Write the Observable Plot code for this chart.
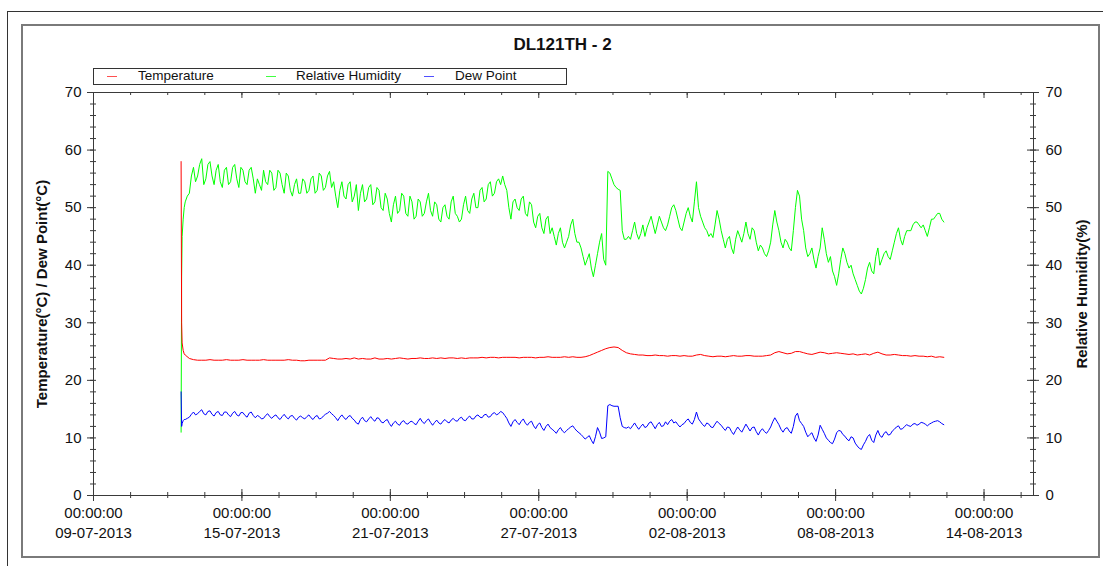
<!DOCTYPE html>
<html><head><meta charset="utf-8">
<script src="https://cdn.jsdelivr.net/npm/d3@7"></script>
<script src="https://cdn.jsdelivr.net/npm/@observablehq/plot@0.6"></script>
<style>
body{margin:0;background:#fff;font-family:"Liberation Sans",Arial,sans-serif;color:#111;}
#wrap{position:relative;width:1103px;height:566px;overflow:hidden;background:#fff;}
#chart{position:absolute;left:0;top:0;}
.outer{position:absolute;left:7px;top:11px;width:1200px;height:700px;border-left:1px solid #333;border-top:1px solid #333;pointer-events:none;}
.inner{position:absolute;left:21px;top:24px;width:1075px;height:530px;border:2px solid #7a7a7a;pointer-events:none;}
.title{position:absolute;left:0;width:1125px;top:35px;text-align:center;font-weight:bold;font-size:17px;line-height:20px;}
.legend{position:absolute;left:93px;top:68px;width:472px;height:15px;border:1px solid #333;}
.sw{position:absolute;top:76px;width:10px;height:0;border-top:1px solid;}
.lt{position:absolute;top:68px;font-size:13.5px;line-height:16px;white-space:nowrap;}
</style></head><body>
<div id="wrap">
  <div id="chart"></div>
  <div class="outer"></div>
  <div class="inner"></div>
  <div class="title">DL121TH - 2</div>
  <div class="legend"></div>
  <div class="sw" style="left:107px;border-color:#ff5050"></div><div class="lt" style="left:138px">Temperature</div>
  <div class="sw" style="left:266px;border-color:#40ff40"></div><div class="lt" style="left:296px">Relative Humidity</div>
  <div class="sw" style="left:424px;border-color:#5050ff"></div><div class="lt" style="left:455px">Dew Point</div>
</div>
<script>
// sample times: hours after 12-07-2013 13:00 (first readings, then a regular step)
const startUTC = Date.UTC(2013, 6, 12, 13, 0);
const headHours = [0, 0.5, 1, 2, 3];
const tempStepHours = 4;   // temperature read every 4 h
const humStepHours = 2;    // humidity & dew point read every 2 h

const temperature = [58, 30, 26.5, 25.2, 24.6,
 24.4, 23.8, 23.6, 23.5, 23.5, 23.5, 23.6, 23.5, 23.5, 23.5,
 23.6, 23.5, 23.5, 23.5, 23.6, 23.5, 23.5, 23.5, 23.5, 23.6,
 23.5, 23.5, 23.5, 23.5, 23.5, 23.6, 23.5, 23.5, 23.4, 23.4,
 23.5, 23.5, 23.5, 23.5, 23.5, 23.9, 23.8, 23.7, 23.7, 23.8,
 23.7, 23.9, 23.7, 23.8, 23.7, 23.7, 23.9, 23.7, 23.7, 23.8,
 23.7, 23.8, 23.9, 23.8, 23.7, 23.8, 23.8, 23.9, 23.8, 23.8,
 23.9, 23.8, 23.9, 23.8, 23.9, 23.9, 23.8, 23.9, 23.8, 23.9,
 23.9, 23.9, 24.0, 23.9, 24.0, 24.0, 23.9, 24.0, 24.0, 24.0,
 24.0, 23.9, 24.0, 24.0, 24.0, 23.9, 24.0, 24.0, 24.1, 24.0,
 24.0, 24.0, 24.1, 24.0, 24.1, 24.0, 24.0, 24.1, 24.3, 24.6,
 24.9, 25.2, 25.5, 25.7, 25.8, 25.7, 25.2, 24.8, 24.6, 24.5,
 24.4, 24.4, 24.3, 24.3, 24.4, 24.3, 24.3, 24.2, 24.3, 24.3,
 24.2, 24.3, 24.2, 24.2, 24.4, 24.5, 24.3, 24.2, 24.1, 24.2,
 24.2, 24.1, 24.2, 24.3, 24.2, 24.2, 24.3, 24.3, 24.2, 24.2,
 24.2, 24.3, 24.4, 24.8, 25.0, 24.8, 24.6, 24.7, 25.0, 25.0,
 24.8, 24.6, 24.5, 24.7, 24.9, 24.8, 24.6, 24.7, 24.8, 24.7,
 24.6, 24.5, 24.6, 24.4, 24.5, 24.6, 24.4, 24.7, 24.9, 24.6,
 24.4, 24.4, 24.5, 24.4, 24.3, 24.3, 24.2, 24.3, 24.2, 24.2,
 24.1, 24.2, 24.0, 24.1, 24.0];

const humidity = [11, 38, 45, 48, 50,
 51, 52, 52.5, 55.5, 57, 54.5, 55.5, 57.5, 58.5, 54, 55, 57.5, 58, 55.5, 54, 56.5, 57.5, 54.5, 53.5, 56.5,
 57, 54, 54.5, 57, 57.5, 55, 53.5, 57, 56.5, 54.5, 54, 56.5, 57, 55, 52.5, 55, 54, 53, 56.5, 54.5,
 54, 56.5, 56, 53, 53.5, 56.5, 56, 54, 52.5, 56, 55.5, 53, 52, 54, 55, 52.5, 52.5, 55, 54.5, 52.5,
 53, 55, 55.5, 52.5, 53, 56, 55.5, 53, 53.5, 55.5, 56.3, 53.5, 54.5, 52, 50, 53, 54.5, 52, 51.5, 54,
 54.5, 51, 52, 54, 49.5, 52.5, 54, 51, 51.5, 53.5, 54, 50.5, 51, 53.5, 53, 50, 49.5, 52.5, 51.5, 49,
 47.5, 50.5, 52, 49, 49.5, 52.5, 52, 49, 48.5, 52, 51, 48, 48.5, 51.5, 51, 48.5, 49, 51, 52.5, 49.5,
 48.5, 51, 50.5, 48, 47.5, 50, 50.5, 48.5, 48, 51, 52, 49, 48.5, 47.5, 48, 50.5, 52, 49.5, 49, 51.5,
 52.5, 50, 50, 53, 53.5, 51, 51.5, 54, 54.5, 52, 52.5, 54.5, 55, 54, 55.5, 54, 53, 50, 48, 51,
 51.5, 50, 49.5, 51.5, 52, 49, 48.5, 51, 50.5, 47.5, 46.5, 48.5, 49, 46.5, 45.5, 48, 48.5, 45.5, 46.5, 45,
 43.5, 45.5, 46.5, 44, 43, 44, 45, 47, 48, 45.5, 44, 44, 43, 41.5, 40, 41, 42, 39.5, 38, 40,
 42, 44, 45.5, 41, 40, 56.3, 56, 55, 54, 53.5, 53.2, 53, 46, 44.5, 44.5, 45, 44.5, 46, 47.5, 45.5,
 44.5, 45.5, 47, 45, 46.5, 47.5, 48.5, 47, 45.5, 47, 48.5, 47.5, 46.5, 46, 47, 48.5, 50, 50.5, 49.5, 48,
 46.5, 46, 47.5, 49, 50, 48.5, 47.5, 51, 54.5, 50, 48.5, 47.5, 46.5, 46, 45, 45.5, 44.8, 47, 49.5, 48,
 46, 44.5, 43, 44.5, 45, 43, 42, 44.5, 46, 45, 44, 45.5, 47.5, 45.5, 44.5, 46.5, 46, 44, 42.5, 43.5,
 43, 42, 41.5, 42.5, 44, 47, 49.5, 47.5, 46, 44, 43, 44.5, 44, 43, 42.5, 46, 50, 53, 52, 48,
 46, 43, 41.5, 42, 43, 41, 39.5, 41.5, 43, 46.5, 44.5, 42, 40.5, 41.5, 39, 38, 36.5, 38.5, 41, 43,
 42, 40.5, 39.5, 40, 38.5, 37.5, 36.5, 35.5, 35, 36, 37.5, 39.5, 40.5, 39, 38.5, 41.5, 43, 40, 41, 42,
 42.5, 41.5, 41, 42.5, 44, 45.5, 46.5, 44.5, 43.5, 45, 46, 46, 46, 47, 47.5, 47.5, 47, 46.5, 47, 46,
 45, 46.5, 48, 48, 48.5, 49, 49, 48, 47.5];

const dewPoint = [18, 12, 12.5, 13, 13.2,
 13.2, 13.4, 13.6, 14.1, 14.5, 14.0, 14.2, 14.6, 14.9, 14.2, 14.0, 14.6, 14.7, 14.1, 13.8, 14.4, 14.6, 14.0, 13.9, 14.5,
 14.5, 14.0, 13.7, 14.3, 14.6, 14.0, 13.8, 14.4, 14.4, 13.9, 13.6, 14.3, 14.5, 13.9, 13.5, 13.9, 13.7, 13.3, 13.4, 13.9,
 14.2, 13.7, 13.4, 13.8, 14.0, 13.5, 13.2, 13.7, 14.1, 13.6, 13.3, 13.8, 13.9, 13.4, 13.1, 13.6, 13.8, 13.5, 13.3, 13.7,
 14.0, 13.5, 13.2, 13.7, 13.9, 13.3, 13.4, 13.8, 14.1, 14.3, 14.6, 14.2, 13.9, 13.5, 13.0, 13.6, 14.0, 13.5, 13.2, 13.7,
 13.9, 13.4, 13.1, 12.6, 12.4, 13.2, 13.6, 13.0, 12.8, 13.3, 13.7, 13.2, 12.9, 13.5, 13.4, 12.8, 12.6, 13.0, 13.2, 12.5,
 12.0, 12.6, 12.9, 12.4, 12.2, 12.8, 13.0, 12.5, 12.4, 12.8, 12.9, 12.5, 12.3, 12.9, 13.4, 12.8, 12.5, 13.0, 13.3, 12.7,
 12.2, 12.7, 13.1, 12.6, 12.4, 12.9, 13.2, 12.8, 12.6, 13.1, 13.4, 13.0, 12.9, 13.4, 13.6, 13.1, 13.0, 13.5, 13.8, 13.3,
 13.3, 13.8, 14.0, 13.6, 13.5, 14.0, 14.1, 13.6, 13.7, 14.2, 14.4, 14.0, 14.2, 14.6, 14.4, 13.9, 13.4, 12.6, 12.0, 12.8,
 13.2, 12.7, 12.3, 12.9, 13.3, 12.6, 12.2, 12.7, 12.9, 12.1, 11.6, 12.3, 12.6, 11.8, 11.3, 12.0, 12.4, 11.8, 11.5, 11.2,
 10.8, 11.4, 11.8, 11.2, 10.9, 11.3, 11.6, 11.9, 12.1, 11.6, 11.2, 10.9, 10.6, 10.2, 9.8, 10.1, 10.4, 9.6, 9.0, 10.2,
 11.8, 11.0, 9.9, 10.0, 10.2, 15.6, 15.8, 15.6, 15.5, 15.5, 15.5, 13.5, 12.0, 11.8, 11.7, 11.9, 11.6, 12.1, 12.6, 12.0,
 11.5, 12.0, 12.4, 11.8, 12.0, 12.6, 12.8, 12.2, 11.6, 12.3, 12.7, 12.0, 12.1, 12.8, 12.3, 12.9, 13.2, 12.6, 12.8, 12.3,
 11.9, 12.3, 12.5, 13.0, 13.3, 12.7, 12.4, 13.2, 14.5, 13.3, 12.8, 12.3, 12.0, 12.6, 12.4, 11.9, 11.8, 12.4, 12.9, 12.5,
 12.2, 11.7, 11.3, 11.9, 11.8, 11.1, 10.6, 11.3, 11.9, 11.4, 11.0, 11.7, 12.4, 11.8, 11.2, 11.8, 11.9, 11.1, 10.5, 11.2,
 11.6, 11.1, 10.8, 11.3, 11.9, 12.8, 13.5, 12.9, 12.3, 11.5, 11.0, 11.6, 11.8, 11.2, 10.8, 12.0, 13.8, 14.3, 13.0, 12.5,
 12.0, 11.0, 10.2, 10.6, 10.9, 10.0, 9.4, 10.5, 12.2, 11.5, 10.8, 10.0, 9.6, 9.2, 9.0, 9.8, 10.9, 11.3, 11.2, 10.6,
 10.3, 9.8, 9.5, 10.2, 10.0, 9.1, 8.6, 8.2, 8.0, 8.8, 9.4, 10.2, 10.6, 9.6, 9.2, 10.5, 11.3, 10.4, 10.1, 10.8,
 11.1, 10.5, 10.6, 11.2, 11.5, 11.9, 12.1, 11.5, 11.6, 12.0, 12.3, 12.1, 12.0, 12.4, 12.5, 12.2, 12.4, 12.7, 12.6, 12.4,
 12.1, 12.4, 12.6, 12.8, 12.9, 13.0, 12.8, 12.5, 12.3];

const xMajorLabels = ["09-07-2013","15-07-2013","21-07-2013","27-07-2013","02-08-2013","08-08-2013","14-08-2013"];
const xDomain = ["2013-07-09", "2013-08-16"];
const yMajor = [0, 10, 20, 30, 40, 50, 60, 70];

const parseDMY = s => { const [d, m, y] = s.split("-").map(Number); return new Date(Date.UTC(y, m - 1, d)); };
const xMajor = xMajorLabels.map(parseDMY);
const x0 = new Date(xDomain[0] + "T00:00:00Z"), x1 = new Date(xDomain[1] + "T00:00:00Z");
const xMinor = d3.range(0, 38, 1.5).map(d => new Date(+x0 + d * 864e5));
const yMinor = d3.range(0, 71, 2);

const timesFor = (n, step) => headHours.concat(d3.range(0, n - headHours.length).map(j => 4 + j * step));
const toRows = (vals, step) => { const h = timesFor(vals.length, step); return vals.map((v, i) => ({t: new Date(startUTC + h[i] * 3600e3), v})); };

const W = 1103, H = 566, mL = 93, mR = 70, mT = 92, mB = 71;
const pw = W - mL - mR, ph = H - mT - mB;
const axisColor = "#3a3a3a";
const font = "'Liberation Sans', Arial, sans-serif";

const chart = Plot.plot({
  width: W, height: H,
  marginLeft: mL, marginRight: mR, marginTop: mT, marginBottom: mB,
  style: {fontFamily: font, fontSize: "15px", background: "transparent", color: "#111"},
  x: {type: "utc", domain: [x0, x1], axis: null},
  y: {domain: [0, 70], axis: null},
  marks: [
    Plot.line(toRows(humidity, humStepHours), {x: "t", y: "v", stroke: "#00ff00", strokeWidth: 1}),
    Plot.line(toRows(temperature, tempStepHours), {x: "t", y: "v", stroke: "#ff0000", strokeWidth: 1}),
    Plot.line(toRows(dewPoint, humStepHours), {x: "t", y: "v", stroke: "#0000ff", strokeWidth: 1}),
    Plot.frame({stroke: axisColor}),
    Plot.tickX(xMinor, {x: d => d, insetTop: ph - 3, insetBottom: -3, stroke: axisColor}),
    Plot.tickX(xMajor, {x: d => d, insetTop: ph - 6, insetBottom: -6, stroke: axisColor}),
    Plot.tickX(xMinor, {x: d => d, insetBottom: ph - 3, stroke: axisColor}),
    Plot.tickX(xMajor, {x: d => d, insetBottom: ph - 6, stroke: axisColor}),
    Plot.tickY(yMinor, {y: d => d, insetRight: pw - 3, insetLeft: -3, stroke: axisColor}),
    Plot.tickY(yMajor, {y: d => d, insetRight: pw, insetLeft: -6, stroke: axisColor}),
    Plot.tickY(yMinor, {y: d => d, insetLeft: pw - 3, insetRight: -3, stroke: axisColor}),
    Plot.tickY(yMajor, {y: d => d, insetLeft: pw - 6, insetRight: -6, stroke: axisColor}),
    Plot.text(yMajor, {y: d => d, text: d => String(d), frameAnchor: "left", dx: -12, textAnchor: "end", fontSize: 15}),
    Plot.text(yMajor, {y: d => d, text: d => String(d), frameAnchor: "right", dx: 12, textAnchor: "start", fontSize: 15}),
    Plot.text(xMajor, {x: d => d, text: (d, i) => "00:00:00\n" + xMajorLabels[i], frameAnchor: "bottom", lineAnchor: "top", dy: 8, lineHeight: 1.33, fontSize: 15}),
    Plot.text(["Temperature(°C) / Dew Point(°C)"], {text: d => d, frameAnchor: "left", dx: -51, rotate: -90, textAnchor: "middle", fontWeight: "bold", fontSize: 15}),
    Plot.text(["Relative Humidity(%)"], {text: d => d, frameAnchor: "right", dx: 49, rotate: -90, textAnchor: "middle", fontWeight: "bold", fontSize: 15})
  ]
});
document.getElementById("chart").appendChild(chart);
</script>
</body></html>
